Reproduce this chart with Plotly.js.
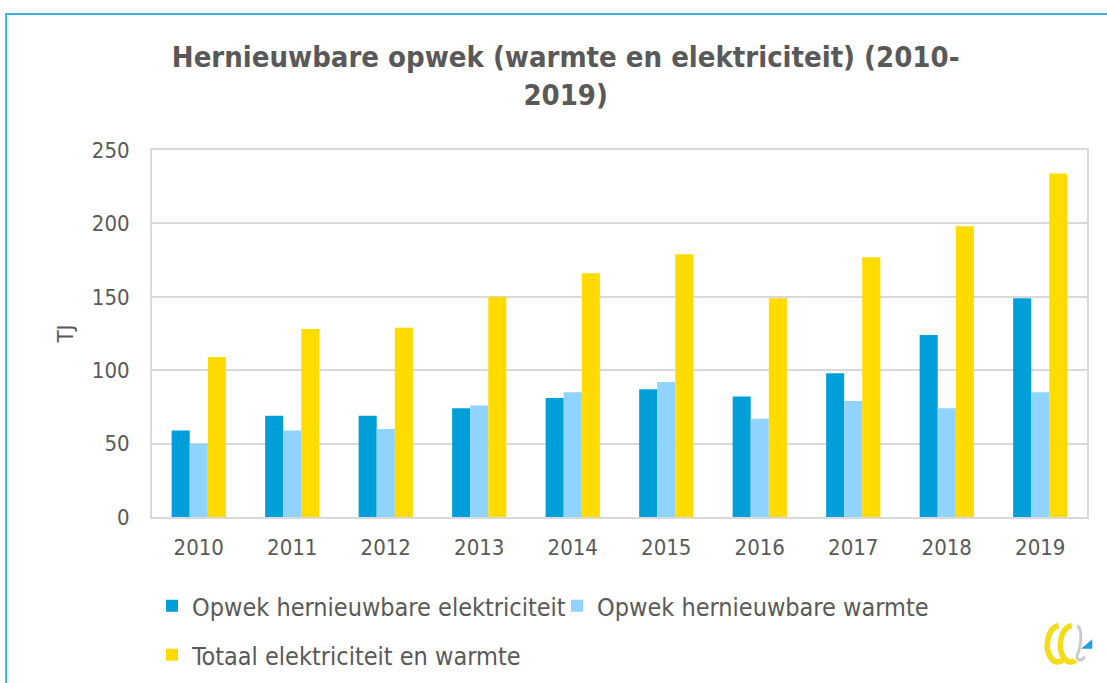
<!DOCTYPE html>
<html>
<head>
<meta charset="utf-8">
<script src="https://cdn.plot.ly/plotly-3.0.1.min.js"></script>
<style>
  html, body { margin: 0; padding: 0; background: #ffffff; }
  #chart { width: 1107px; height: 683px; }
</style>
</head>
<body>
<div id="chart"></div>
<script>
const years = ['2010','2011','2012','2013','2014','2015','2016','2017','2018','2019'];
const elektriciteit = [59, 69, 69, 74, 81, 87, 82, 98, 124, 149];
const warmte = [50, 59, 60, 76, 85, 92, 67, 79, 74, 85];
const totaal = [109, 128, 129, 150, 166, 179, 149, 177, 198, 234];
const seriesNames = ['Opwek hernieuwbare elektriciteit', 'Opwek hernieuwbare warmte', 'Totaal elektriciteit en warmte'];
const yTicks = [0, 50, 100, 150, 200, 250];

const FONT = 'DejaVu Sans Condensed, DejaVu Sans, sans-serif';
const GREY = '#595959';

const traces = [
  {type: 'bar', name: seriesNames[0], x: years, y: elektriciteit, marker: {color: '#009fd9'}, legend: 'legend'},
  {type: 'bar', name: seriesNames[1], x: years, y: warmte, marker: {color: '#8fd3fe'}, legend: 'legend'},
  {type: 'bar', name: seriesNames[2], x: years, y: totaal, marker: {color: '#ffdb00'}, legend: 'legend2'}
];

const logoSvg = '<svg xmlns="http://www.w3.org/2000/svg" width="60" height="50" viewBox="0 0 60 50">' +
  '<path d="M20 6 C8 8 4 30 12 40 C16 45 22 44 24 42" fill="none" stroke="#f3dc1a" stroke-width="6"/>' +
  '<path d="M34 6 C22 8 18 30 26 40 C30 45 36 44 38 42" fill="none" stroke="#f3dc1a" stroke-width="6"/>' +
  '<path d="M40 6 C46 10 44 28 40 36 C38 42 44 44 48 38" fill="none" stroke="#c8c8c8" stroke-width="3"/>' +
  '<path d="M44 30 L56 20 L56 30 Z" fill="#1ea0dc"/>' +
  '</svg>';

const layout = {
  width: 1107,
  height: 683,
  paper_bgcolor: '#ffffff',
  plot_bgcolor: '#ffffff',
  margin: {l: 152, r: 20, t: 150, b: 166},
  font: {family: FONT, color: GREY, size: 22},
  title: {
    text: '<b>Hernieuwbare opwek (warmte en elektriciteit) (2010-<br>2019)</b>',
    font: {family: FONT, size: 29, color: GREY},
    x: 0.511, xref: 'container', xanchor: 'center',
    y: 1 - 67/683, yref: 'container', yanchor: 'middle'
  },
  barmode: 'group',
  bargap: 0.42,
  bargroupgap: 0,
  xaxis: {
    type: 'category',
    showgrid: false,
    showline: true, linecolor: '#d9d9d9', linewidth: 2, mirror: true,
    ticks: '', ticklabelstandoff: 10,
    tickfont: {size: 22, color: GREY}
  },
  yaxis: {
    range: [0, 250],
    tickvals: yTicks,
    showgrid: true, gridcolor: '#d9d9d9', gridwidth: 2,
    showline: true, linecolor: '#d9d9d9', linewidth: 2, mirror: true,
    zeroline: false,
    ticks: '', ticklabelstandoff: 16,
    tickfont: {size: 22, color: GREY},
    title: {text: 'TJ', font: {size: 22, color: GREY}, standoff: 12}
  },
  legend: {
    orientation: 'h',
    x: 0, xanchor: 'left',
    y: 1 - 606/683, yref: 'container', yanchor: 'middle',
    font: {size: 25, color: GREY},
    itemwidth: 30,
    entrywidth: 360, entrywidthmode: 'pixels',
    bgcolor: 'rgba(0,0,0,0)'
  },
  legend2: {
    orientation: 'h',
    x: 0, xanchor: 'left',
    y: 1 - 655/683, yref: 'container', yanchor: 'middle',
    font: {size: 25, color: GREY},
    itemwidth: 30,
    bgcolor: 'rgba(0,0,0,0)'
  },
  shapes: [
    {type: 'path', xref: 'paper', yref: 'paper',
     path: 'M -0.156 -0.6 L -0.156 1.3706 L 1.2 1.3706',
     line: {color: '#35b2df', width: 2}}
  ],
  images: [
    {source: 'data:image/svg+xml;charset=utf-8,' + encodeURIComponent(logoSvg),
     xref: 'paper', yref: 'paper',
     x: (1040-152)/935, y: (517-620)/367,
     sizex: 56/935, sizey: 48/367,
     xanchor: 'left', yanchor: 'top', sizing: 'stretch', layer: 'above'}
  ],
  showlegend: true
};

Plotly.newPlot('chart', traces, layout, {displayModeBar: false, staticPlot: true});
</script>
</body>
</html>
